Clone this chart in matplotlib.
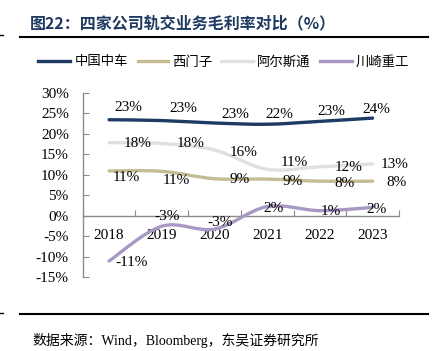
import matplotlib.pyplot as plt
import numpy as np
from matplotlib.path import Path
from matplotlib.patches import PathPatch
from matplotlib.lines import Line2D

plt.rcParams["font.family"] = ["Liberation Serif", "Noto Sans CJK SC"]
plt.rcParams["font.size"] = 11

years = ["2018", "2019", "2020", "2021", "2022", "2023"]
crrc = [23.4, 23.2, 22.6, 22.3, 23.0, 23.8]
siemens = [10.9, 10.8, 9.0, 8.9, 8.4, 8.4]
alstom = [17.8, 17.6, 16.0, 11.3, 11.9, 12.6]
kawasaki = [-11.1, -2.6, -3.3, 2.2, 1.2, 2.0]

crrc_lbl = ["23%", "23%", "23%", "22%", "23%", "24%"]
siemens_lbl = ["11%", "11%", "9%", "9%", "8%", "8%"]
alstom_lbl = ["18%", "18%", "16%", "11%", "12%", "13%"]
kawasaki_lbl = ["-11%", "-3%", "-3%", "2%", "1%", "2%"]

names = ["中国中车", "西门子", "阿尔斯通", "川崎重工"]
colors = ["#1D3B63", "#C5BC94", "#E0E0E0", "#A898C4"]

# label offsets in pixels (dx, dy), tuned by eye
offsets = [
    [(19, 12), (22, 12), (21, 9), (12, 10), (11, 10), (4, 9)],
    [(17, -7), (15, -9), (25, -1), (25, -2), (25, -2), (24, -1)],
    [(29, -1), (29, 0), (29, -2), (27, 7), (29, -1), (22, -1)],
    [(23, -1), (5, 10), (6, 7), (6, -2), (11, -1), (4, -2)],
]

W, H = 434, 351
fig = plt.figure(figsize=(W / 100, H / 100), dpi=100)


def fx(x):
    return x / W


def fy(y):
    return 1 - y / H


ax = fig.add_axes([fx(82.7), fy(277), fx(399) - fx(82.7), fy(92.7) - fy(277)])


def smooth_path(xs, ys):
    # catmull-rom style bezier, like excel smoothed lines
    p = np.column_stack([xs, ys]).astype(float)
    ext = np.vstack([p[0], p, p[-1]])
    verts = [p[0]]
    codes = [Path.MOVETO]
    for i in range(len(p) - 1):
        p0, p1, p2, p3 = ext[i], ext[i + 1], ext[i + 2], ext[i + 3]
        verts += [p1 + (p2 - p0) / 6, p2 - (p3 - p1) / 6, p2]
        codes += [Path.CURVE4] * 3
    return Path(verts, codes)


x = np.arange(len(years))
series = [crrc, siemens, alstom, kawasaki]
labels = [crrc_lbl, siemens_lbl, alstom_lbl, kawasaki_lbl]
order = [2, 1, 3, 0]
for k in order:
    patch = PathPatch(smooth_path(x, series[k]), facecolor="none",
                      edgecolor=colors[k], lw=2.4, capstyle="round", zorder=3)
    ax.add_patch(patch)

for k in range(4):
    for i in range(len(years)):
        ax.annotate(labels[k][i], (x[i], series[k][i]), xytext=offsets[k][i],
                    textcoords="offset pixels", ha="center", va="center",
                    fontsize=11, color="black", zorder=5)

ax.set_xlim(-0.5, 5.5)
ax.set_ylim(-15, 30)
ax.set_yticks(np.arange(-15, 31, 5))
ax.set_yticklabels([f"{v}%" for v in range(-15, 31, 5)])
ax.set_xticks(np.arange(-0.5, 6, 1))
ax.set_xticklabels([])
ax.set_xticks(x, minor=True)
ax.set_xticklabels(years, minor=True)
ax.tick_params(axis="x", which="major", direction="in", length=4, color="#8C8C8C")
ax.tick_params(axis="x", which="minor", length=0, pad=10, labelsize=11)
ax.tick_params(axis="y", direction="in", length=4, color="#8C8C8C", pad=10, labelsize=11)
for s in ["top", "right"]:
    ax.spines[s].set_visible(False)
ax.spines["bottom"].set_position(("data", 0))
for s in ["left", "bottom"]:
    ax.spines[s].set_color("#8C8C8C")
    ax.spines[s].set_linewidth(1.0)
ax.patch.set_alpha(0)

# title and rules
fig.text(fx(30), fy(23.5), "图22：四家公司轨交业务毛利率对比（%）", fontsize=11.5,
         fontweight="bold", color="#1F3A60", va="center", ha="left",
         family=["Noto Sans CJK SC", "DejaVu Sans"])
fig.add_artist(Line2D([fx(20), fx(428)], [fy(36.7), fy(36.7)], color="black", lw=1.5))
fig.add_artist(Line2D([fx(0), fx(3)], [fy(35), fy(35)], color="black", lw=1))
fig.add_artist(Line2D([fx(20), fx(428)], [fy(314), fy(314)], color="black", lw=1.5))
fig.add_artist(Line2D([fx(0), fx(3)], [fy(313), fy(313)], color="black", lw=1))

# legend
leg_x = [(38, 70, 75), (138, 168, 172), (221, 253, 257), (320, 352, 356)]
for k, (x0, x1, tx) in enumerate(leg_x):
    fig.add_artist(Line2D([fx(x0), fx(x1)], [fy(61), fy(61)], color=colors[k], lw=2.4))
    fig.text(fx(tx), fy(61.5), names[k], fontsize=9.6, va="center", ha="left",
             family=["Noto Sans CJK SC", "DejaVu Sans"])

fig.text(fx(32), fy(340), "数据来源：Wind，Bloomberg，东吴证券研究所", fontsize=10,
         va="center", ha="left")

fig.savefig("out.png", dpi=100)
plt.close(fig)
